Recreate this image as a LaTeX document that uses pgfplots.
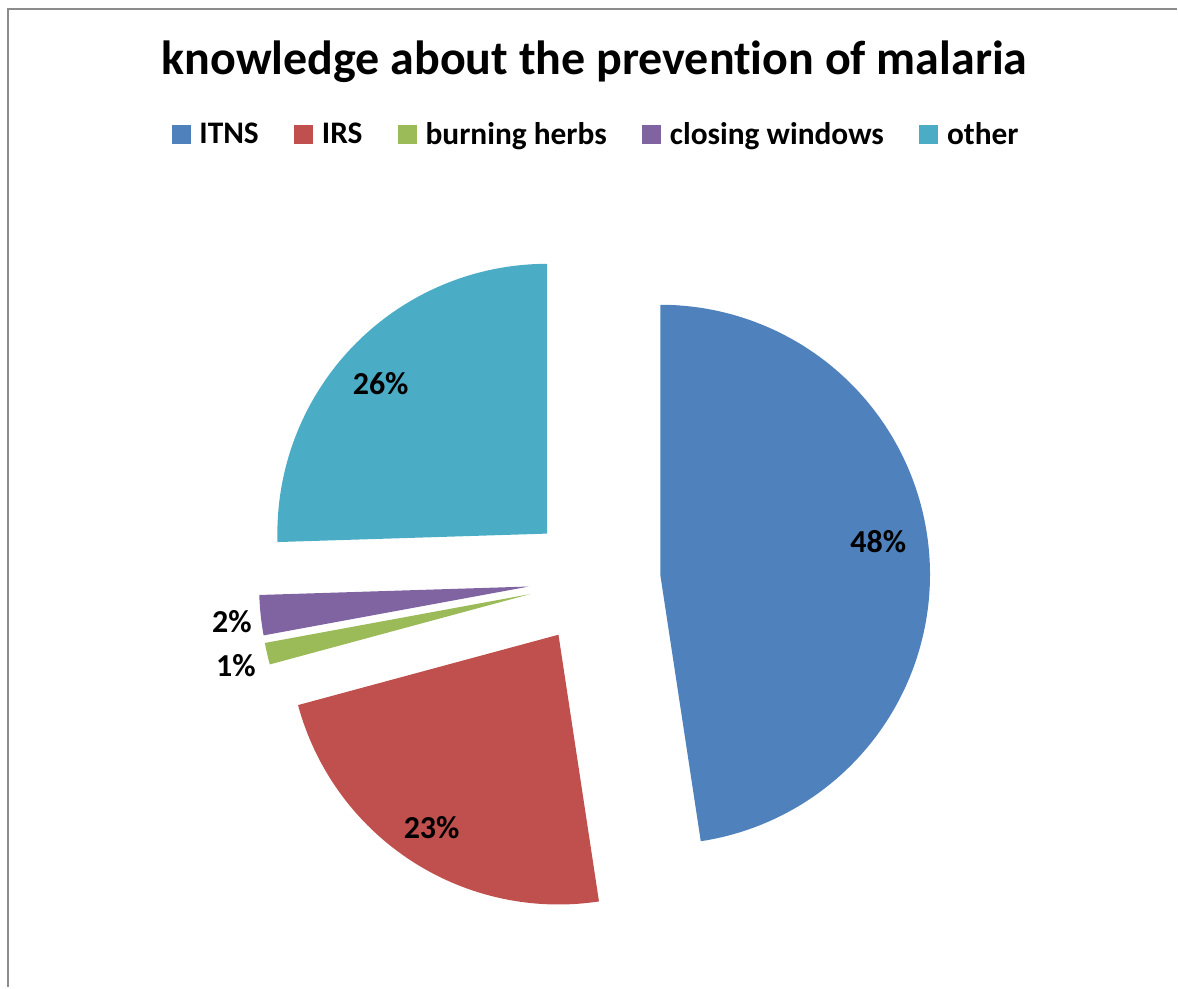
\documentclass[border=0pt]{standalone}
\usepackage{pgfplots}
\pgfplotsset{compat=1.18}
\usepackage{fontspec}
\setmainfont{Carlito}[Ligatures=NoCommon]
\definecolor{cA}{HTML}{4F81BD}
\definecolor{cB}{HTML}{C0504D}
\definecolor{cC}{HTML}{9BBB59}
\definecolor{cD}{HTML}{8064A2}
\definecolor{cE}{HTML}{4BACC6}
% shares (percent)
\def\pA{47.6}% ITNS
\def\pB{23.2}% IRS
\def\pC{1.3}% burning herbs
\def\pD{2.4}% closing windows
\def\pE{25.5}% other
\pgfmathsetmacro\aA{90}
\pgfmathsetmacro\aB{\aA-3.6*\pA}
\pgfmathsetmacro\aC{\aB-3.6*\pB}
\pgfmathsetmacro\aD{\aC-3.6*\pC}
\pgfmathsetmacro\aE{\aD-3.6*\pD}
\pgfmathsetmacro\aF{\aE-3.6*\pE}
\newcommand\slice[3]{%
  \pgfmathsetmacro\mid{(#2+#3)/2}%
  \pgfmathsetmacro\cx{595+66*cos(\mid)}%
  \pgfmathsetmacro\cy{408+66*sin(\mid)}%
  \edef\doslice{\noexpand\addplot[fill=#1, draw=none, domain=#3:#2, samples=150]
    ({\cx+270*cos(x)},{\cy+270*sin(x)}) -- (axis cs:\cx,\cy) -- cycle;}%
  \doslice}
\begin{document}
\begin{tikzpicture}
\begin{axis}[
  x=0.5pt, y=0.5pt,
  xmin=0, xmax=1178, ymin=0, ymax=988,
  hide axis, clip=false,
  legend image code/.code={\fill[#1] (0pt,-4.75pt) rectangle (9.5pt,4.75pt);},
  legend style={at={(axis cs:600,853)}, anchor=center, draw=none, fill=none,
    font=\bfseries\fontsize{15.7}{19}\selectfont, legend columns=-1,
    nodes={inner xsep=4.3pt},
    /tikz/every even column/.append style={column sep=13.5pt}},
]
\path (axis cs:0,0) rectangle (axis cs:1178,988);
\slice{cA}{\aA}{\aB}
\slice{cB}{\aB}{\aC}
\slice{cC}{\aC}{\aD}
\slice{cD}{\aD}{\aE}
\slice{cE}{\aE}{\aF}
\legend{ITNS, IRS, burning herbs, closing windows, other}
\draw[color=black!45, line width=1pt] (axis cs:8,0) -- (axis cs:8,979) -- (axis cs:1178,979);
\node[anchor=base, font=\bfseries\fontsize{24}{28}\selectfont] at (axis cs:595,913) {knowledge about the prevention of malaria};
\begin{scope}[every node/.style={font=\bfseries\fontsize{16}{19}\selectfont}]
\node at (axis cs:879,446) {48\%};
\node at (axis cs:432,160) {23\%};
\node at (axis cs:381,604) {26\%};
\node at (axis cs:232,366) {2\%};
\node at (axis cs:236,322) {1\%};
\end{scope}
\end{axis}
\end{tikzpicture}
\end{document}
